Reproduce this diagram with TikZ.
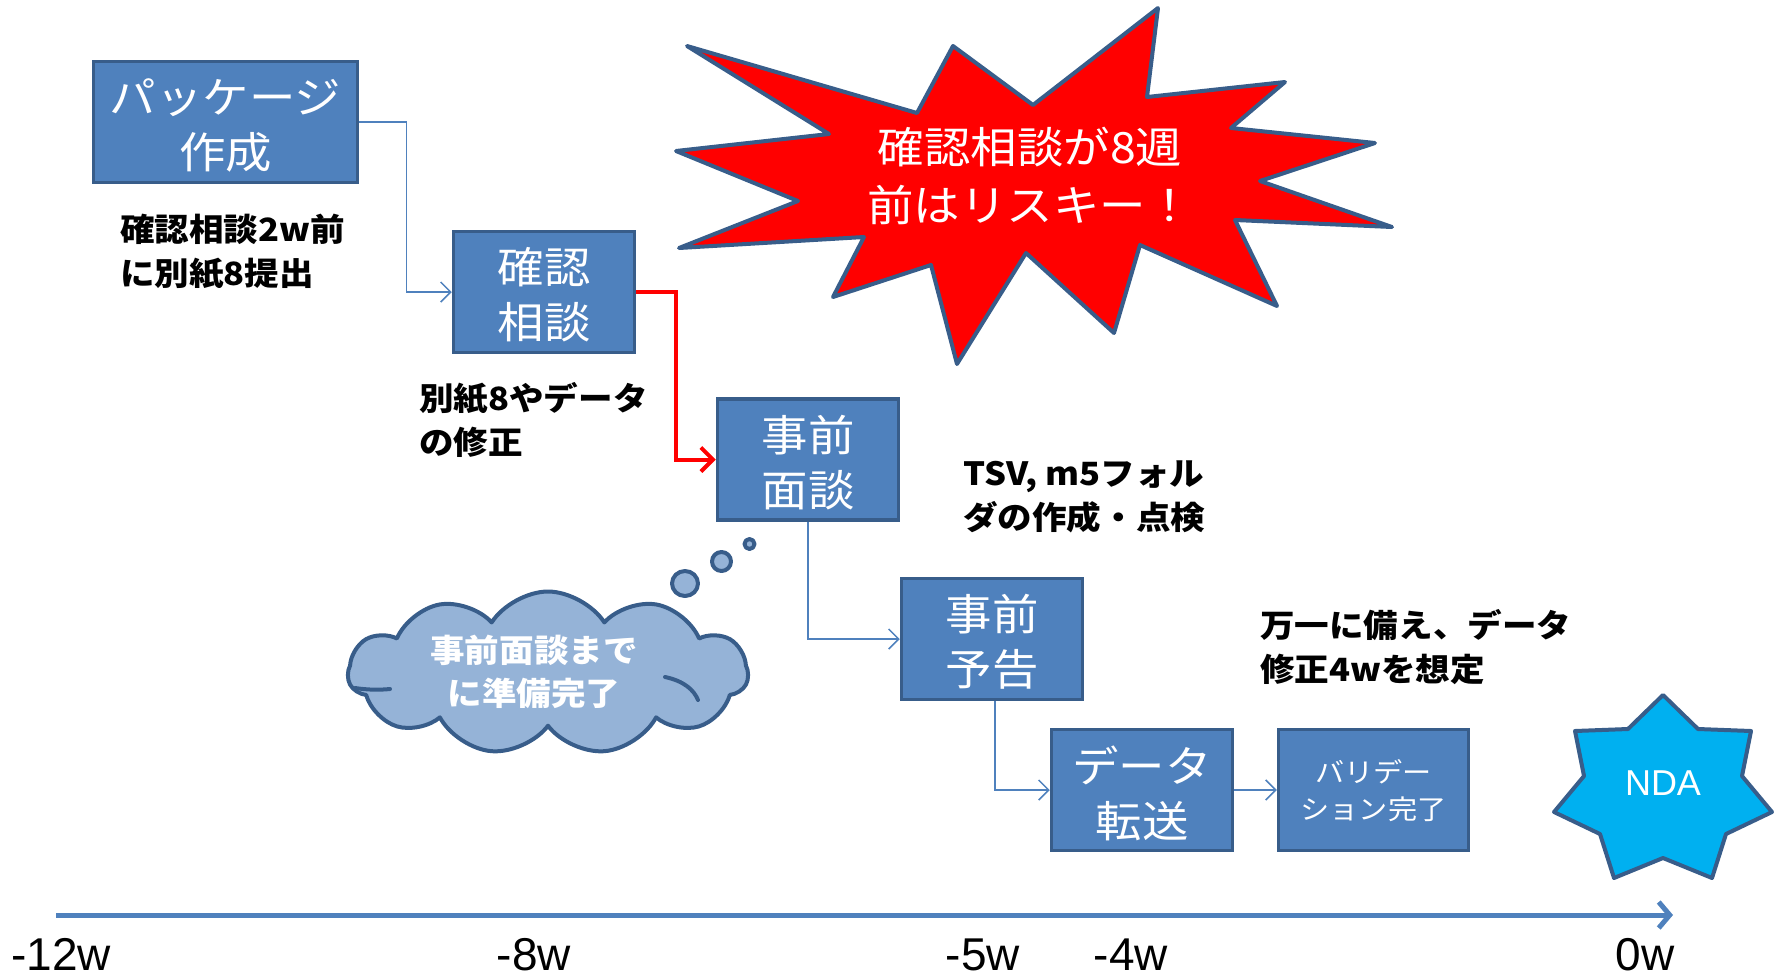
\documentclass[tikz,border=0pt]{standalone}
\usepackage{fontspec}
\setmainfont{Noto Sans CJK JP}[FakeStretch=1.08]
\newfontfamily\arialfont{Liberation Sans}
\usetikzlibrary{arrows.meta,shapes.symbols,calc}
\definecolor{boxfill}{HTML}{4F81BD}
\definecolor{boxline}{HTML}{385D8A}
\definecolor{cloudfill}{HTML}{95B3D7}
\definecolor{ndafill}{HTML}{00B0F0}
\tikzset{
  stepbox/.style={draw=boxline, fill=boxfill, line width=3.5pt,
    minimum width=181pt, minimum height=121pt, inner sep=0pt},
  boxtext/.style={text=white, inner sep=0pt, align=center,
    font=\fontsize{43}{55}\selectfont},
  conn/.style={draw=boxfill, line width=1.5pt, -{Straight Barb[length=10pt,width=20pt]}},
  redconn/.style={draw=red, line width=4pt, -{Straight Barb[length=12pt,width=24pt]}},
  note/.style={text=black, align=left, anchor=west, inner sep=0pt,
    font=\bfseries\fontsize{32}{44}\selectfont},
  axislabel/.style={anchor=base, inner sep=0pt, font=\arialfont\fontsize{46}{46}\selectfont},
  shapeline/.style={draw=boxline, line width=4pt, line join=round},
  innerarc/.style={draw=boxline, line width=4pt, line cap=round},
}
\begin{document}
\begin{tikzpicture}[x=1pt, y={(0pt,-1pt)}]
\useasboundingbox (0,0) rectangle (1775,978);

% explosion
\draw[shapeline, fill=red] (687,46) -- (829,134) -- (676,151) -- (798,201) -- (679,248)
  -- (864,237) -- (833,297) -- (931,265) -- (957,364) -- (1026,253) -- (1114,333)
  -- (1140,245) -- (1277,306) -- (1235,220) -- (1392,227) -- (1260,181) -- (1375,143)
  -- (1231,128) -- (1285,82) -- (1147,97) -- (1158,8) -- (1033,105) -- (953,46)
  -- (917,113) -- cycle;
\node[text=white, align=center, inner sep=0pt, font=\fontsize{43}{58}\selectfont]
  (risk) at (1030,176) {確認相談が8週\\前はリスキー！};

% boxes
\node[stepbox, minimum width=264pt] (pkg) at (225.5,122) {};
\node[stepbox] (conf) at (544,292) {};
\node[stepbox] (mendan) at (808,459.5) {};
\node[stepbox] (yokoku) at (992,639) {};
\node[stepbox] (data) at (1142,790) {};
\node[stepbox, minimum width=190pt] (vali) at (1373.5,790) {};
\node[boxtext] (pkgt) at ([yshift=-3pt]pkg.center) {パッケージ\\作成};
\node[boxtext] (conft) at ([yshift=-3pt]conf.center) {確認\\相談};
\node[boxtext] (mendant) at ([yshift=-3pt]mendan.center) {事前\\面談};
\node[boxtext] (yokokut) at ([yshift=-3pt]yokoku.center) {事前\\予告};
\node[boxtext] (datat) at ([yshift=-3pt]data.center) {データ\\転送};
\node[boxtext, font=\fontsize{27}{37}\selectfont] (valit) at ([yshift=-1pt]vali.center) {バリデー\\ション完了};

% connectors
\draw[conn] (pkg.east) -- ++(47,0) |- (conf.west);
\draw[redconn] (conf.east) -- ++(40,0) |- (mendan.west);
\draw[conn] (mendan.south) |- (yokoku.west);
\draw[conn] ([xshift=3pt]yokoku.south) |- (data.west);
\draw[conn] (data.east) -- (vali.west);

% notes
\node[note] (n1) at (120,251.5) {確認相談2w前\\に別紙8提出};
\node[note] (n2) at (419,419.5) {別紙8やデータ\\の修正};
\node[note] (n3) at (963,496.5) {TSV, m5フォル\\ダの作成・点検};
\node[note] (n4) at (1260,647.5) {万一に備え、データ\\修正4wを想定};

% cloud
\node[cloud, cloud puffs=11, cloud puff arc=115, aspect=2.4, shapeline, fill=cloudfill,
  minimum width=400pt, minimum height=163pt, inner sep=0pt] (cloud) at (548,673) {};
\draw[innerarc] (665,677) .. controls (684,681) and (694,690) .. (698,700);
\draw[innerarc] (355,688) .. controls (368,690) and (380,690) .. (390,689);
\node[text=white, align=center, inner sep=0pt, font=\bfseries\fontsize{32}{43}\selectfont]
  (cloudtxt) at (534,671.5) {事前面談まで\\に準備完了};
\draw[shapeline, fill=cloudfill] (685,583.5) ellipse [x radius=13, y radius=12.5];
\draw[shapeline, fill=cloudfill] (721.5,561.5) ellipse [x radius=9.5, y radius=9.5];
\draw[shapeline, fill=cloudfill] (749.5,544) ellipse [x radius=5, y radius=5];

% NDA star
\draw[shapeline, fill=ndafill] (1663,695) -- (1698,729) -- (1751,731) -- (1742,776)
  -- (1772,812) -- (1726,834) -- (1712,878) -- (1663,858) -- (1614,878) -- (1600,834)
  -- (1554,812) -- (1584,776) -- (1575,731) -- (1628,729) -- cycle;
\node[text=white, inner sep=0pt, font=\arialfont\fontsize{36}{36}\selectfont] (nda) at (1663,783) {NDA};

% axis
\coordinate (ax0) at (56,915);
\coordinate (ax1) at (1673,915);
\draw[draw=boxfill, line width=5pt, -{Straight Barb[length=11pt,width=26pt]}] (ax0) -- (ax1);
\node[axislabel] (l12) at (61,970) {-12w};
\node[axislabel] (l8) at (534,970) {-8w};
\node[axislabel] (l5) at (983,970) {-5w};
\node[axislabel] (l4) at (1131,970) {-4w};
\node[axislabel] (l0) at (1645,970) {0w};
\end{tikzpicture}
\end{document}
